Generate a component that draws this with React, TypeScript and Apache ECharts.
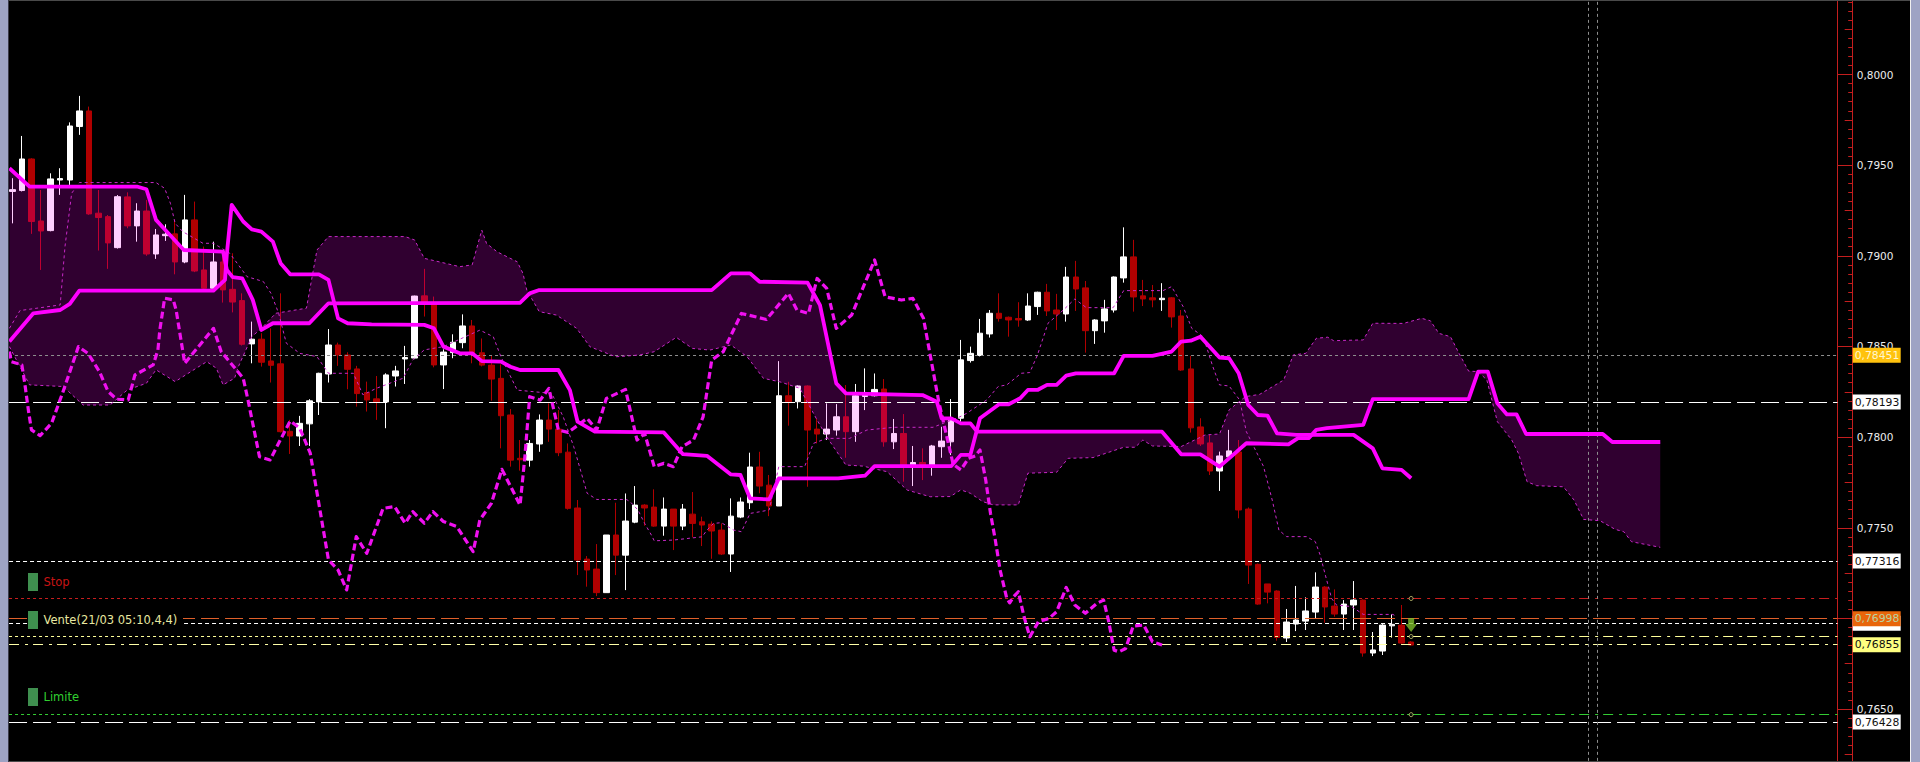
import React, { useEffect, useRef } from "react";
import * as echarts from "echarts";

type V = [number, number];
const UNIT = 1e5;
const slots = 191;

const opens = [79355,79360,79534,79192,79139,79418,79418,79713,79799,79235,79216,79045,79325,79165,79247,79010,79111,79121,78966,79198,78922,78821,78966,78815,78753,78514,78540,78420,78404,78032,78006,78073,78194,78348,78508,78453,78376,78246,78211,78194,78337,78431,78436,78779,78742,78398,78466,78521,78613,78465,78397,78324,78122,77883,77873,77962,78094,78044,77917,77609,77327,77272,77142,77460,77349,77531,77625,77614,77509,77603,77509,77575,77533,77520,77487,77355,77559,77638,77835,77735,77620,78228,78195,78282,78044,78017,78039,78112,78030,78224,78228,78265,77974,78020,77846,77860,77846,77947,77974,78104,78422,78450,78569,78683,78661,78654,78646,78720,78799,78701,78679,78883,78823,78587,78641,78701,78878,78994,78779,78768,78758,78768,78668,78376,78056,77968,77813,77891,77918,77603,77298,77190,77151,76892,76969,76985,77035,77173,77068,77024,77074,77101,76809,76820,76959,76963,76870];
const closes = [79365,79534,79189,79137,79424,79426,79716,79799,79231,79211,79071,79326,79165,79247,79010,79115,79119,78966,79198,78916,78821,78966,78812,78745,78512,78540,78413,78396,78030,78006,78076,78200,78352,78508,78453,78374,78240,78205,78194,78343,78365,78439,78778,78742,78398,78469,78523,78613,78462,78397,78320,78118,77873,77875,77965,78094,78044,77914,77607,77322,77267,77142,77460,77349,77537,77625,77609,77509,77603,77509,77603,77524,77515,77482,77355,77564,77642,77835,77730,77620,78228,78195,78282,78039,78017,78044,78112,78030,78228,78232,78263,77974,78020,77846,77860,77846,77951,77978,78094,78426,78462,78573,78683,78655,78646,78646,78723,78799,78696,78679,78883,78817,78587,78646,78707,78883,78994,78773,78762,78757,78766,78663,78370,78051,77962,77813,77896,77924,77598,77294,77079,77145,76895,76980,76991,77041,77173,77063,77024,77079,77101,76809,76826,76963,76967,76864,76853];
const lows = [79179,79355,79121,78922,79135,79336,79391,79667,79226,79029,78928,79040,79152,79078,79000,78983,79082,78898,78959,78910,78815,78815,78742,78688,78505,78407,78389,78301,78025,77907,77951,77951,78122,78301,78393,78264,78168,78141,78095,78049,78279,78293,78430,78665,78385,78265,78435,78490,78407,78390,78201,77938,77837,77815,77837,77919,77974,77895,77600,77239,77175,77123,77142,77239,77156,77525,77511,77505,77456,77377,77487,77447,77399,77329,77350,77256,77553,77603,77690,77564,77620,78063,78158,77726,77965,77984,78008,77886,77974,78149,78224,77947,77934,77754,77730,77763,77787,77886,77901,78085,78411,78445,78549,78637,78554,78609,78641,78674,78668,78591,78637,78696,78466,78514,78576,78687,78852,78692,78723,78716,78696,78604,78365,78025,77951,77791,77703,77885,77552,77190,77075,77083,76877,76870,76930,76936,77000,76976,77009,76936,76936,76789,76792,76798,76894,76860,76850];
const highs = [79428,79661,79538,79363,79455,79483,79736,79882,79823,79363,79225,79335,79350,79290,79308,79148,79174,79198,79336,79299,79051,79078,79014,79014,78793,78637,78573,78600,78793,78095,78117,78209,78355,78596,78521,78468,78393,78306,78337,78352,78393,78503,78780,78928,78775,78484,78567,78677,78646,78544,78453,78401,78155,77984,77984,78125,78186,78149,77965,77653,77344,77410,77460,77638,77689,77730,77630,77712,77667,77603,77631,77697,77561,77535,77524,77662,77667,77914,77919,77791,78419,78305,78285,78285,78103,78186,78182,78287,78293,78379,78351,78320,78100,78127,77951,77938,77957,78057,78210,78536,78499,78652,78701,78793,78665,78744,78793,78802,78845,78790,78939,78972,78861,78650,78757,78886,79157,79088,78867,78839,78849,78772,78701,78448,78104,78012,77920,78040,77984,77612,77303,77190,77155,77052,77179,77116,77254,77178,77160,77101,77206,77105,76925,76968,77022,77074,76875];

const kijun: V[] = [[-0.3,78527],[2.2,78683],[5,78701],[6,78735],[7,78808],[21,78808],[22.2,78867],[22.4,79014],[22.9,79281],[24.1,79189],[25,79146],[26,79133],[27.2,79078],[28,78959],[29,78898],[32,78898],[33,78867],[34,78655],[35,78628],[37.5,78622],[43,78619],[44,78600],[45,78499],[46.7,78462],[48,78462],[49,78419],[51,78416],[52,78388],[53,78370],[57,78370],[58.2,78259],[59,78085],[60.8,78030],[68,78026],[70,77906],[72.5,77897],[75,77794],[76,77791],[77,77662],[79,77656],[80,77772],[86.2,77772],[89,77787],[90,77840],[98,77840],[99,77902],[100,77902],[101,78104],[103,78181],[104,78181],[105.2,78214],[106,78260],[107,78260],[108,78288],[109,78288],[110,78339],[111,78352],[115,78352],[116,78448],[119,78448],[121,78472],[122,78527],[123,78532],[124,78554],[126,78439],[127,78435],[128,78352],[129,78177],[130,78122],[131,78119],[132,78021],[134,78012],[140,78012],[142,77938],[143,77828],[145,77819],[146,77773]];
const senkouB: V[] = [[-0.3,79483],[1.8,79382],[13,79382],[14,79367],[15,79198],[15.8,79152],[17.9,79032],[22,79023],[22.4,78922],[23,78882],[24,78876],[25.1,78757],[26,78591],[27.2,78628],[31,78628],[33,78738],[53,78741],[54,78793],[55,78811],[73,78811],[75,78903],[77,78903],[78,78857],[83,78852],[84.3,78728],[86,78296],[87,78241],[95,78232],[96.5,78195],[97,78103],[98,78103],[99,78076],[100,78076],[100.7,78030],[120,78030],[122,77905],[124,77905],[126,77837],[127,77883],[128.8,77966],[133.2,77960],[134.2,77994],[135.3,77994],[136.1,78040],[137.2,78049],[141,78067],[142,78209],[152,78209],[153,78361],[154,78361],[155,78186],[156,78125],[157,78125],[158,78017],[166,78017],[167,77973],[172,77973]];
const senkouA: V[] = [[-0.3,78499],[1.8,78288],[5.3,78279],[7.4,78177],[10.2,78177],[12,78260],[14,78297],[15,78371],[17,78306],[19.2,78380],[20.3,78416],[21.3,78380],[22,78288],[23.2,78325],[23.6,78389],[25,78554],[26,78600],[27.5,78683],[30.7,78711],[31.8,79032],[33,79106],[41,79106],[42,79087],[43,78986],[46.7,78940],[48,78950],[49,79142],[49.5,79068],[50.6,79022],[52.7,78967],[53.3,78903],[53.7,78811],[55,78692],[56.8,78673],[58.9,78600],[60.3,78498],[63,78443],[65.5,78453],[67,78471],[69.3,78550],[71,78489],[72.8,78480],[75,78508],[76.7,78443],[78.4,78324],[80.1,78305],[82.2,78269],[84,78094],[85,78002],[87,77846],[88.8,77840],[91.3,77809],[93.4,77708],[95.8,77671],[97.9,77672],[99,77709],[100,77690],[101.3,77644],[102.4,77626],[105,77626],[106,77801],[109,77806],[110.2,77883],[112.8,77887],[116,77944],[117.2,77944],[118,77984],[119,77951],[122,77948],[124.5,78012],[126,78017],[127,78150],[128.7,78223],[130.2,78236],[132.7,78315],[133.7,78453],[135,78462],[136.1,78545],[137.3,78551],[137.9,78532],[141,78536],[142,78628],[145.2,78627],[147.1,78655],[148,78642],[148.9,78572],[150.1,78554],[151.1,78452],[152,78364],[153,78361],[153.9,78315],[155,78085],[156.5,77984],[157.2,77910],[158.1,77754],[159.1,77732],[161.9,77726],[163,77653],[164,77546],[165.7,77539],[167.3,77491],[168.2,77478],[169,77423],[172,77392]];
const tenkan: V[] = [[-0.3,78600],[0.8,78698],[5,78729],[5.5,79051],[6.2,79345],[7,79404],[15,79404],[15.9,79372],[16.5,79290],[17,79179],[17.8,79133],[19.9,79069],[21,79069],[22.7,79014],[24.5,78885],[26.2,78858],[27,78793],[27.8,78683],[28.6,78518],[30,78462],[31.8,78444],[33,78352],[35.6,78352],[36.6,78233],[38,78269],[40.8,78325],[41.8,78426],[43,78481],[45,78499],[48.8,78590],[50.2,78554],[51,78443],[52.7,78259],[56.3,78241],[57.5,78112],[58.6,77947],[60,77690],[61,77656],[64.1,77656],[64.5,77643],[65.3,77598],[66,77524],[66.7,77460],[67,77428],[69,77432],[72,77450],[72.5,77487],[73.2,77524],[74,77528],[75.3,77487],[76.1,77478],[77,77579],[78,77588],[79,77598],[80,77837],[82.7,77837],[83.6,77965],[85,77993],[87.4,77993],[89.2,78039],[92,78054],[96.1,78054],[98.9,78112],[99.6,78131],[101.7,78205],[102.9,78279],[103.8,78288],[105.3,78352],[106.2,78356],[107,78453],[108.1,78628],[109.7,78701],[110.9,78762],[112.1,78714],[114.9,78714],[116,78808],[120.1,78808],[121,78830],[122.2,78720],[123.1,78600],[124.3,78554],[125.3,78389],[126,78288],[127,78282],[128.1,78205],[128.8,78030],[130,77902],[130.6,77837],[131.5,77653],[132.2,77487],[133,77451],[135.1,77451],[136,77423],[136.5,77350],[137,77248],[137.7,77110],[138.2,77074],[139.8,77065],[141,77022],[144.1,77022],[144.5,77009]];
const chikou: V[] = [[-0.3,78472],[-0.1,78416],[1,78398],[1.3,78297],[1.7,78141],[2,78040],[2.9,78008],[4.1,78076],[5.3,78251],[6.9,78499],[7.9,78462],[9.1,78361],[10,78251],[10.9,78209],[12.1,78205],[12.8,78343],[14.7,78398],[15.2,78481],[15.4,78591],[15.9,78766],[16.8,78757],[17.1,78701],[18,78407],[21,78600],[21.8,78472],[24.1,78325],[24.6,78205],[25.8,77892],[26.9,77874],[29,78089],[30,78049],[31.1,77911],[33,77323],[34,77267],[34.9,77157],[35.9,77451],[37,77359],[38.7,77607],[39.9,77617],[41,77525],[41.8,77589],[43,77525],[43.9,77589],[45,77534],[46.4,77506],[48.1,77368],[48.8,77543],[50,77634],[51.1,77822],[53,77625],[53.5,77892],[54,78223],[55.1,78204],[56,78269],[57,78039],[58,78026],[60,78103],[61,78039],[62,78213],[64,78263],[65.2,77984],[66,78020],[67,77837],[68,77855],[69,77837],[69.9,77947],[71.1,77984],[72.1,78112],[73,78425],[74.2,78471],[76.1,78682],[78.7,78649],[81,78793],[81.9,78701],[83.1,78682],[84,78875],[85,78820],[86,78600],[87.6,78673],[90,78977],[91.1,78774],[92.8,78756],[94,78765],[95.1,78655],[96.7,78195],[98.2,77850],[99,77819],[99.8,77883],[100.5,77896],[101,77929],[101.6,77763],[102.1,77579],[102.6,77432],[103.1,77267],[103.8,77110],[104.1,77086],[104.5,77119],[105,77147],[105.6,77009],[106.2,76899],[107.1,76982],[108.2,77000],[109,77037],[110,77171],[110.9,77074],[112,77028],[113.2,77083],[113.9,77101],[114.4,76991],[115,76825],[115.5,76816],[116.2,76834],[117,76958],[118.1,76963],[119,76871],[120,76853]];

const priceTicks = { min: 0.76, max: 0.805, step: 0.005, halfStep: 0.0025 };
const stopLevel = 0.7711;
const entryLevel = 0.769;
const limitLevel = 0.76469;
const greyLevel = 0.78451;
const midLevel = 0.78193;
const upperWhite = 0.77316;
const orangeLevel = 0.76998;
const whiteNear = 0.76973;
const paleLevel = 0.76855;
const lowWhite = 0.76428;
const signalBar = 146;
const signalPrice = 0.76964;
const cursorBars = [164.5, 165.5];

const tags = [
  { v: whiteNear, text: "", bg: "#ffffff", fg: "#000000" },
  { v: greyLevel, text: "0,78451", bg: "#ffc20e", fg: "#fff6d0" },
  { v: midLevel, text: "0,78193", bg: "#ffffff", fg: "#101010" },
  { v: upperWhite, text: "0,77316", bg: "#ffffff", fg: "#101010" },
  { v: orangeLevel, text: "0,76998", bg: "#e8650a", fg: "#b9d3a0" },
  { v: paleLevel, text: "0,76855", bg: "#ffff80", fg: "#101010" },
  { v: lowWhite, text: "0,76428", bg: "#ffffff", fg: "#101010" },
];

const END = slots - 0.5;
const START = -0.34;
const fontFam = "'DejaVu Sans'";
const SHORT = [3, 3];
const DOTTED = [4, 3];
const LONG = [18, 6];
const DASHDOT = [10, 6, 3, 5];

const levelRows: { v: number; color: string; dash: number[]; from: number; to: number }[] = [
  { v: greyLevel, color: "#8e8e8e", dash: SHORT, from: START, to: END },
  { v: midLevel, color: "#ffffff", dash: LONG, from: START, to: END },
  { v: upperWhite, color: "#ffffff", dash: DOTTED, from: START, to: END },
  { v: stopLevel, color: "#c81e1e", dash: SHORT, from: START, to: signalBar },
  { v: stopLevel, color: "#c81e1e", dash: DASHDOT, from: signalBar, to: END },
  { v: orangeLevel, color: "#e0602a", dash: LONG, from: START, to: END },
  { v: whiteNear, color: "#ffffff", dash: DOTTED, from: START, to: END },
  { v: entryLevel, color: "#ffff99", dash: SHORT, from: START, to: signalBar },
  { v: entryLevel, color: "#ffff99", dash: DASHDOT, from: signalBar, to: END },
  { v: paleLevel, color: "#ffffa8", dash: DASHDOT, from: START, to: END },
  { v: limitLevel, color: "#33cc33", dash: SHORT, from: START, to: signalBar },
  { v: limitLevel, color: "#33cc33", dash: DASHDOT, from: signalBar, to: END },
  { v: lowWhite, color: "#ffffff", dash: LONG, from: START, to: END },
];

const scaled = (a: V[]) => a.map(([i, p]) => [i, p / UNIT]);
function curve(a: V[], width: number, dash: any, color: string, z: number) {
  return {
    type: "line", xAxisIndex: 1, yAxisIndex: 0, z, symbol: "none", silent: true,
    data: scaled(a),
    lineStyle: { color, width, type: dash, cap: "butt", join: "round" },
  };
}
const crisp = (n: number) => Math.round(n - 0.5) + 0.5;

export default function App() {
  const ref = useRef<HTMLDivElement>(null);
  useEffect(() => {
    document.body.style.margin = "0";
    document.body.style.background = "#000";
    const chart = echarts.init(ref.current!, undefined, { renderer: "svg" });
    const candleData = opens.map((o, i) => [o / UNIT, closes[i] / UNIT, lows[i] / UNIT, highs[i] / UNIT]);
    const yBase = { type: "value", position: "right", min: priceTicks.min, max: priceTicks.max, splitLine: { show: false } };
    const red = "#c41e1e";
    const option: any = {
      animation: false,
      backgroundColor: "#000000",
      grid: { left: 7.5, right: 82.5, top: -16.15, bottom: -37.7, containLabel: false, outerBoundsMode: "none" },
      xAxis: [
        { type: "category", data: Array.from({ length: slots }, (_, i) => String(i)), show: false, boundaryGap: true },
        { type: "value", min: -0.5, max: END, show: false },
      ],
      yAxis: [
        { ...yBase, interval: priceTicks.step, axisLine: { show: true, onZero: false, lineStyle: { color: red } }, axisTick: { show: false }, axisLabel: { show: false } },
        {
          ...yBase, interval: priceTicks.step, offset: 15.2,
          axisLine: { show: true, onZero: false, lineStyle: { color: red } },
          axisTick: { show: true, inside: true, length: 15, lineStyle: { color: red } },
          minorTick: { show: true, splitNumber: 10, length: 4.5, lineStyle: { color: red } },
          axisLabel: {
            show: true, margin: 4, color: "#ececec", fontFamily: fontFam, fontSize: 10.5,
            showMinLabel: false, showMaxLabel: false,
            formatter: (v: number) => (Math.abs(v - 0.77) < 1e-6 || v < 0.7601 || v > 0.8049 ? "" : v.toFixed(4).replace(".", ",")),
          },
        },
        {
          ...yBase, interval: priceTicks.halfStep, offset: 15.2,
          axisLine: { show: false, onZero: false },
          axisTick: { show: true, inside: true, length: 8, lineStyle: { color: red } },
          axisLabel: { show: false },
        },
      ],
      series: [
        {
          type: "candlestick", xAxisIndex: 0, yAxisIndex: 0, z: 1, silent: true, barWidth: 6,
          data: candleData,
          itemStyle: { color: "#ffffff", color0: "#b00000", borderColor: "#ffffff", borderColor0: "#b00000", borderWidth: 1 },
        },
        {
          type: "custom", xAxisIndex: 1, yAxisIndex: 0, z: 3, silent: true, data: [[0, 0.78]],
          renderItem: (_p: any, api: any) => {
            const pts = [...senkouA, ...[...senkouB].reverse()].map(([i, p]) => api.coord([i, p / UNIT]));
            return { type: "polygon", z2: 500, shape: { points: pts }, style: { fill: "rgba(255,0,255,0.19)" } };
          },
        },
        {
          type: "custom", xAxisIndex: 1, yAxisIndex: 0, z: 4, silent: true,
          data: levelRows.map((r) => [r.from, r.v]),
          renderItem: (p: any, api: any) => {
            const r = levelRows[p.dataIndex];
            const a = api.coord([r.from, r.v]);
            const b = api.coord([r.to, r.v]);
            const y = crisp(a[1]);
            return { type: "line", z2: 500, shape: { x1: a[0], y1: y, x2: b[0], y2: y }, style: { stroke: r.color, lineWidth: 1, lineDash: r.dash } };
          },
        },
        {
          type: "custom", xAxisIndex: 1, yAxisIndex: 0, z: 4, silent: true,
          data: cursorBars.map((b) => [b, priceTicks.max]),
          renderItem: (p: any, api: any) => {
            const b = cursorBars[p.dataIndex];
            const t = api.coord([b, priceTicks.max]);
            const u = api.coord([b, priceTicks.min]);
            const x = crisp(t[0]);
            return { type: "line", z2: 500, shape: { x1: x, y1: t[1], x2: x, y2: u[1] }, style: { stroke: "#8e8e8e", lineWidth: 1, lineDash: SHORT } };
          },
        },
        curve(tenkan, 1, [3, 3], "#c828c8", 5),
        curve(senkouA, 1, [3, 3], "#c828c8", 5),
        curve(chikou, 3.2, [7, 3.5], "#f010f0", 6),
        curve(kijun, 3.8, "solid", "#ff00ff", 7),
        curve(senkouB, 3.8, "solid", "#ff00ff", 7),
        {
          type: "scatter", xAxisIndex: 1, yAxisIndex: 0, z: 8, silent: true,
          symbol: "circle", symbolSize: 4,
          data: [[signalBar, stopLevel], [signalBar, entryLevel], [signalBar, limitLevel]],
          itemStyle: { color: "#000000", borderColor: "#d8d880", borderWidth: 1 },
        },
        {
          type: "scatter", xAxisIndex: 1, yAxisIndex: 0, z: 9, silent: true,
          symbol: "path://M3,0 L9,0 L9,6 L12,6 L6,14 L0,6 L3,6 Z", symbolSize: [12, 14],
          data: [[signalBar, signalPrice]],
          itemStyle: { color: "#7dbb2c" },
        },
        {
          type: "custom", xAxisIndex: 1, yAxisIndex: 0, z: 10, silent: true, clip: false,
          data: tags.map((t) => [END, t.v]),
          renderItem: (p: any, api: any) => {
            const t = tags[p.dataIndex];
            const c = api.coord([END, t.v]);
            const x = c[0] + 15.2;
            return {
              type: "group",
              children: [
                { type: "rect", shape: { x, y: c[1] - 7.5, width: 48, height: 15 }, style: { fill: t.bg } },
                { type: "text", style: { text: t.text, x: x + 2, y: c[1], verticalAlign: "middle", fill: t.fg, font: `10.8px ${fontFam}` } },
              ],
            };
          },
        },
      ],
      graphic: [
        { type: "rect", z: 100, shape: { x: 0, y: 0, width: 8, height: 762 }, style: { fill: "#9ea3c4" } },
        { type: "rect", z: 100, shape: { x: 8, y: 0, width: 1, height: 762 }, style: { fill: "#3a3a4a" } },
        { type: "rect", z: 100, shape: { x: 1910, y: 0, width: 1, height: 762 }, style: { fill: "#f0f0f0" } },
        { type: "rect", z: 100, shape: { x: 1911, y: 0, width: 9, height: 762 }, style: { fill: "#9ea3c4" } },
        { type: "rect", z: 100, shape: { x: 9, y: 0, width: 1901, height: 1 }, style: { fill: "#4a4a4a" } },
        { type: "rect", z: 100, shape: { x: 9, y: 761, width: 1901, height: 1 }, style: { fill: "#4a4a4a" } },
        { type: "rect", z: 100, shape: { x: 38, y: 612, width: 145, height: 16 }, style: { fill: "#000000" } },
        { type: "rect", z: 101, shape: { x: 28, y: 573, width: 10, height: 18 }, style: { fill: "#3f8f4f" } },
        { type: "rect", z: 101, shape: { x: 28, y: 611, width: 10, height: 18 }, style: { fill: "#3f8f4f" } },
        { type: "rect", z: 101, shape: { x: 28, y: 688, width: 10, height: 18 }, style: { fill: "#3f8f4f" } },
        { type: "text", z: 102, x: 43.5, y: 582, style: { text: "Stop", fill: "#c81414", font: `11.5px ${fontFam}`, verticalAlign: "middle" } },
        { type: "text", z: 102, x: 43.5, y: 620, style: { text: "Vente(21/03 05:10,4,4)", fill: "#e8e8a0", font: `11.5px ${fontFam}`, verticalAlign: "middle" } },
        { type: "text", z: 102, x: 43.5, y: 697, style: { text: "Limite", fill: "#30d030", font: `11.5px ${fontFam}`, verticalAlign: "middle" } },
      ],
    };
    chart.setOption(option);
    return () => chart.dispose();
  }, []);
  return <div ref={ref} style={{ position: "absolute", left: 0, top: 0, width: 1920, height: 762, overflow: "hidden" }} />;
}
